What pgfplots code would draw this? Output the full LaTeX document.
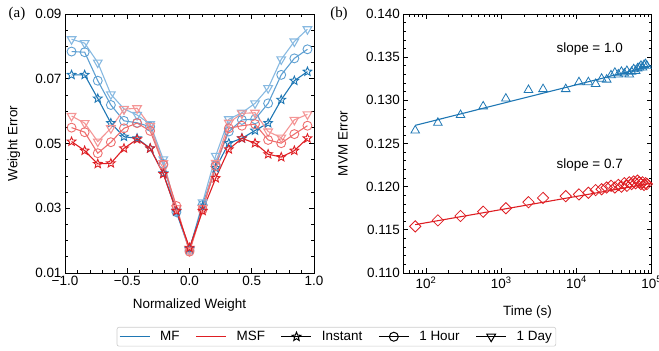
\documentclass[border=0pt]{standalone}
\usepackage{pgfplots}
\pgfplotsset{compat=1.18}
\usepackage{fontspec}
\setmainfont{Liberation Sans}
\newfontfamily\seriffont{Liberation Serif}

\definecolor{bI}{RGB}{31,119,180}
\definecolor{bH}{RGB}{95,160,210}
\definecolor{bD}{RGB}{135,185,225}
\definecolor{rI}{RGB}{222,30,35}
\definecolor{rH}{RGB}{238,110,110}
\definecolor{rD}{RGB}{244,150,150}

\pgfdeclareplotmark{ostar}{%
  \pgfpathmoveto{\pgfpointpolar{90}{1.15\pgfplotmarksize}}%
  \pgfpathlineto{\pgfpointpolar{126}{0.5\pgfplotmarksize}}%
  \pgfpathlineto{\pgfpointpolar{162}{1.15\pgfplotmarksize}}%
  \pgfpathlineto{\pgfpointpolar{198}{0.5\pgfplotmarksize}}%
  \pgfpathlineto{\pgfpointpolar{234}{1.15\pgfplotmarksize}}%
  \pgfpathlineto{\pgfpointpolar{270}{0.5\pgfplotmarksize}}%
  \pgfpathlineto{\pgfpointpolar{306}{1.15\pgfplotmarksize}}%
  \pgfpathlineto{\pgfpointpolar{342}{0.5\pgfplotmarksize}}%
  \pgfpathlineto{\pgfpointpolar{18}{1.15\pgfplotmarksize}}%
  \pgfpathlineto{\pgfpointpolar{54}{0.5\pgfplotmarksize}}%
  \pgfpathclose
  \pgfusepathqstroke
}

\pgfplotsset{
  myax/.style={
    scale only axis,
    height=259bp,
    tick align=inside,
    major tick length=5bp,
    minor tick length=3bp,
    axis line style={line width=0.8pt},
    every tick/.style={black, line width=0.7pt},
    tick label style={font=\fontsize{13.5}{15}\selectfont},
    label style={font=\fontsize{13.5}{15}\selectfont},
    /pgf/number format/assume math mode=true,
    scaled ticks=false,
  },
  wline/.style={line width=1.1bp, mark options={solid, fill=none, line width=0.9bp}},
}

\begin{document}
\begin{tikzpicture}
\path[use as bounding box] (0,0) rectangle (659bp,351bp);

\begin{axis}[myax,
  at={(65bp,78bp)}, anchor=south west, width=249bp,
  xmin=-1, xmax=1, ymin=0.01, ymax=0.09,
  xtick={-1,-0.5,0,0.5,1},
  xticklabels={−1.0,−0.5,0.0,0.5,1.0},
  minor x tick num=4,
  ytick={0.01,0.03,0.05,0.07,0.09},
  yticklabels={0.01,0.03,0.05,0.07,0.09},
  minor y tick num=3,
  xlabel={Normalized Weight},
  ylabel={Weight Error},
  xlabel style={at={(axis description cs:0.5,-0.124)}, anchor=center},
  ylabel style={at={(axis description cs:-0.205,0.5)}, anchor=center},
  legend columns=5,
  legend style={at={(axis description cs:1.09,-0.2085)}, anchor=north,
    draw=black!20, rounded corners=2pt, line width=0.6pt,
    font=\fontsize{13.5}{15}\selectfont, inner sep=2pt,
    /tikz/every odd column/.append style={column sep=8bp},
    /tikz/every even column/.append style={column sep=14bp}},
  legend image code/.code={\draw[mark repeat=2,mark phase=2,#1] plot coordinates {(0bp,0bp) (15bp,0bp) (30bp,0bp)};},
]
\addlegendimage{color=bI, line width=1.1bp}
\addlegendentry{MF}
\addlegendimage{color=rI, line width=1.1bp}
\addlegendentry{MSF}
\addlegendimage{black, line width=1bp, mark=ostar, mark size=4, mark options={fill=none}}
\addlegendentry{Instant}
\addlegendimage{black, line width=1bp, mark=o, mark size=4.5}
\addlegendentry{1 Hour}
\addlegendimage{black, line width=1bp, mark=triangle, mark size=5, mark options={rotate=180, fill=none}}
\addlegendentry{1 Day}

% MF 1 Day
\addplot[forget plot, wline, color=bD, mark=triangle, mark size=5, mark options={rotate=180}] table {
-0.9474 0.0822
-0.8421 0.0810
-0.7368 0.0750
-0.6316 0.0652
-0.5263 0.0607
-0.4211 0.0588
-0.3158 0.0560
-0.2105 0.0451
-0.1053 0.0290
0 0.0172
0.1053 0.0318
0.2105 0.0462
0.3158 0.0575
0.4211 0.0595
0.5263 0.0624
0.6316 0.0671
0.7368 0.0760
0.8421 0.0815
0.9474 0.0853
};
% MF 1 Hour
\addplot[forget plot, wline, color=bH, mark=o, mark size=4.5] table {
-0.9474 0.0784
-0.8421 0.0782
-0.7368 0.0694
-0.6316 0.0619
-0.5263 0.0570
-0.4211 0.0564
-0.3158 0.0552
-0.2105 0.0437
-0.1053 0.0288
0 0.0170
0.1053 0.0310
0.2105 0.0434
0.3158 0.0537
0.4211 0.0573
0.5263 0.0575
0.6316 0.0624
0.7368 0.0712
0.8421 0.0763
0.9474 0.0791
};
% MF Instant
\addplot[forget plot, wline, color=bI, mark=ostar, mark size=4] table {
-0.9474 0.0712
-0.8421 0.0712
-0.7368 0.0639
-0.6316 0.0563
-0.5263 0.0521
-0.4211 0.0516
-0.3158 0.0485
-0.2105 0.0408
-0.1053 0.0290
0 0.0175
0.1053 0.0305
0.2105 0.0424
0.3158 0.0501
0.4211 0.0516
0.5263 0.0540
0.6316 0.0563
0.7368 0.0635
0.8421 0.0694
0.9474 0.0722
};
% MSF 1 Day
\addplot[forget plot, wline, color=rD, mark=triangle, mark size=5, mark options={rotate=180}] table {
-0.9474 0.0585
-0.8421 0.0563
-0.7368 0.0506
-0.6316 0.0547
-0.5263 0.0606
-0.4211 0.0609
-0.3158 0.0554
-0.2105 0.0439
-0.1053 0.0300
0 0.0168
0.1053 0.0300
0.2105 0.0440
0.3158 0.0564
0.4211 0.0593
0.5263 0.0595
0.6316 0.0537
0.7368 0.0518
0.8421 0.0573
0.9474 0.0590
};
% MSF 1 Hour
\addplot[forget plot, wline, color=rH, mark=o, mark size=4.5] table {
-0.9474 0.0549
-0.8421 0.0535
-0.7368 0.0470
-0.6316 0.0504
-0.5263 0.0547
-0.4211 0.0563
-0.3158 0.0539
-0.2105 0.0434
-0.1053 0.0307
0 0.0166
0.1053 0.0296
0.2105 0.0430
0.3158 0.0547
0.4211 0.0555
0.5263 0.0560
0.6316 0.0511
0.7368 0.0501
0.8421 0.0529
0.9474 0.0555
};
% MSF Instant
\addplot[forget plot, wline, color=rI, mark=ostar, mark size=4] table {
-0.9474 0.0506
-0.8421 0.0478
-0.7368 0.0437
-0.6316 0.0439
-0.5263 0.0485
-0.4211 0.0513
-0.3158 0.0485
-0.2105 0.0406
-0.1053 0.0292
0 0.0178
0.1053 0.0292
0.2105 0.0393
0.3158 0.0482
0.4211 0.0516
0.5263 0.0501
0.6316 0.0467
0.7368 0.0458
0.8421 0.0478
0.9474 0.0516
};
\end{axis}

\begin{axis}[myax,
  at={(403.3bp,78bp)}, anchor=south west, width=248.4bp,
  xmode=log, log basis x=10,
  xmin=50, xmax=100000, ymin=0.110, ymax=0.140,
  xticklabel={\pgfmathtruncatemacro{\ee}{round(\tick)}10\textsuperscript{\ee}},
  ytick={0.110,0.115,0.120,0.125,0.130,0.135,0.140},
  yticklabels={0.110,0.115,0.120,0.125,0.130,0.135,0.140},
  minor y tick num=4,
  xlabel={Time (s)},
  ylabel={MVM Error},
  xlabel style={at={(axis description cs:0.5,-0.151)}, anchor=center},
  ylabel style={at={(axis description cs:-0.243,0.5)}, anchor=center},
]
\addplot[only marks, color=bI, mark=triangle, mark size=5, mark options={fill=none, line width=0.8bp}] table {
72 0.1265
144 0.1274
288 0.1283
576 0.1293
1152 0.1302
2304 0.1312
3600 0.1313
7200 0.1313
10800 0.1321
14400 0.1321
18000 0.1319
21600 0.1325
25200 0.1324
28800 0.1329
32400 0.1332
36000 0.1330
39600 0.1333
43200 0.1331
46800 0.1334
50400 0.1330
54000 0.1333
57600 0.1336
61200 0.1334
64800 0.1337
68400 0.1338
72000 0.1340
75600 0.1338
79200 0.1341
82800 0.1342
86400 0.1340
};
\addplot[color=bI, line width=1.1bp] coordinates {(72,0.1271) (100000,0.1340)};
\addplot[only marks, color=rI, mark=square, mark size=4, mark options={rotate=45, fill=none, line width=0.8bp}] table {
72 0.1154
144 0.1161
288 0.1166
576 0.1171
1152 0.1175
2304 0.1182
3600 0.1187
7200 0.1189
10800 0.1191
14400 0.1193
18000 0.1196
21600 0.1197
25200 0.1199
28800 0.1201
32400 0.1199
36000 0.1202
39600 0.1200
43200 0.1204
46800 0.1201
50400 0.1205
54000 0.1203
57600 0.1206
61200 0.1204
64800 0.1207
68400 0.1205
72000 0.1203
75600 0.1205
79200 0.1202
82800 0.1204
86400 0.1203
};
\addplot[color=rI, line width=1.1bp] coordinates {(72,0.1156) (100000,0.1204)};
\node[font=\fontsize{13.5}{15}\selectfont] at (axis cs:15000,0.1360) {slope = 1.0};
\node[font=\fontsize{13.5}{15}\selectfont] at (axis cs:15000,0.12254) {slope = 0.7};
\end{axis}

\node[font=\seriffont\fontsize{15}{17}\selectfont] at (17bp,337bp) {(a)};
\node[font=\seriffont\fontsize{15}{17}\selectfont] at (339bp,337bp) {(b)};
\end{tikzpicture}
\end{document}
